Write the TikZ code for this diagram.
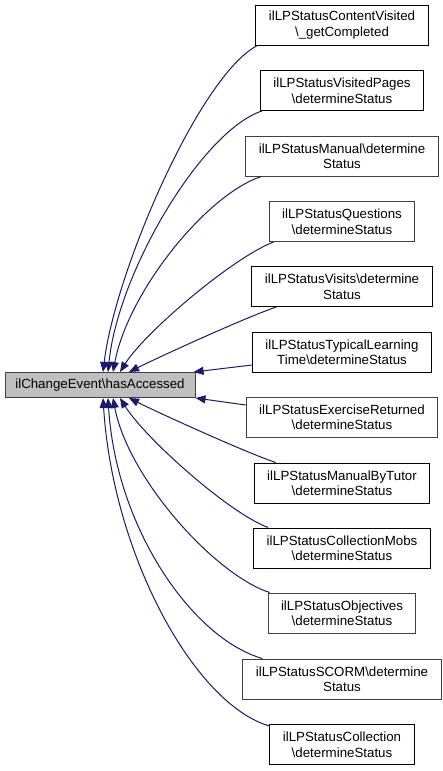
\documentclass[tikz,border=0pt]{standalone}
\usepackage{fontspec}
\setmainfont{Liberation Sans}
\usepackage{tikz}
\usetikzlibrary{arrows.meta}
\definecolor{edgeblue}{RGB}{25,25,112}
\definecolor{mainfill}{RGB}{191,191,191}
\definecolor{dimline}{RGB}{64,64,64}

\begin{document}
\begin{tikzpicture}[x=1pt,y=-1pt,
    every node/.style={font=\fontsize{13.3}{15.5}\selectfont},
    box/.style={draw=black, line width=1pt, fill=white, align=center,
      inner xsep=13pt, inner ysep=0pt, minimum height=40pt},
    dimbox/.style={box, draw=dimline},
    edge/.style={edgeblue, line width=1pt, -{Triangle[length=10pt,width=8pt]}}]
    \useasboundingbox (0,0) rectangle (443,771);

    % the called member
    \node[dimbox, fill=mainfill, minimum width=190pt, minimum height=25pt, inner xsep=0pt]
      (hasacc) at (100,385) {ilChangeEvent\textbackslash hasAccessed};

    % callers, one column
    \node[box]    (contvis)    at (342,25)    {ilLPStatusContentVisited\\\textbackslash\_getCompleted};
    \node[box]    (vispages)   at (342,90.5)  {ilLPStatusVisitedPages\\\textbackslash determineStatus};
    \node[dimbox] (manual)     at (342,156)   {ilLPStatusManual\textbackslash determine\\Status};
    \node[dimbox] (questions)  at (342,221.5) {ilLPStatusQuestions\\\textbackslash determineStatus};
    \node[box]    (visits)     at (342,286.5) {ilLPStatusVisits\textbackslash determine\\Status};
    \node[box]    (typlearn)   at (342,352)   {ilLPStatusTypicalLearning\\Time\textbackslash determineStatus};
    \node[dimbox] (exret)      at (342,417)   {ilLPStatusExerciseReturned\\\textbackslash determineStatus};
    \node[box]    (mantutor)   at (342,483)   {ilLPStatusManualByTutor\\\textbackslash determineStatus};
    \node[box]    (collmobs)   at (342,548)   {ilLPStatusCollectionMobs\\\textbackslash determineStatus};
    \node[dimbox] (objectives) at (342,613)   {ilLPStatusObjectives\\\textbackslash determineStatus};
    \node[dimbox] (scorm)      at (342,679)   {ilLPStatusSCORM\textbackslash determine\\Status};
    \node[box]    (collection) at (342,744.5) {ilLPStatusCollection\\\textbackslash determineStatus};

    % calls from above
    \draw[edge] ([xshift=2pt]contvis.south west) .. controls +(-58,30) and +(12,-100) .. ([xshift=3pt]hasacc.north);
    \draw[edge] ([xshift=2pt]vispages.south west) .. controls +(-60,20) and +(10,-100) .. ([xshift=8pt]hasacc.north);
    \draw[edge] ([xshift=16pt]manual.south west) .. controls +(-55,18) and +(15,-80) .. ([xshift=13pt]hasacc.north);
    \draw[edge] ([xshift=5pt]questions.south west) .. controls +(-40,15) and +(25,-40) .. ([xshift=20pt]hasacc.north);
    \draw[edge] ([xshift=25pt]visits.south west) .. controls +(-30,10) and +(30,-15) .. ([xshift=29pt]hasacc.north);
    \draw[edge] ([yshift=-13pt]typlearn.west) -- ([xshift=-2pt]hasacc.north east);

    % calls from below
    \draw[edge] ([yshift=12pt]exret.west) -- (hasacc.south east);
    \draw[edge] ([xshift=22pt]mantutor.north west) .. controls +(-30,-10) and +(30,15) .. ([xshift=29pt]hasacc.south);
    \draw[edge] ([xshift=15pt]collmobs.north west) .. controls +(-40,-15) and +(25,40) .. ([xshift=20pt]hasacc.south);
    \draw[edge] ([xshift=2pt]objectives.north west) .. controls +(-55,-18) and +(15,80) .. ([xshift=13pt]hasacc.south);
    \draw[edge] ([xshift=20pt]scorm.north west) .. controls +(-70,-20) and +(8,130) .. ([xshift=8pt]hasacc.south);
    \draw[edge] ([yshift=-2pt]collection.north west) .. controls +(-75,-22) and +(10,157) .. ([xshift=3pt]hasacc.south);
\end{tikzpicture}
\end{document}
